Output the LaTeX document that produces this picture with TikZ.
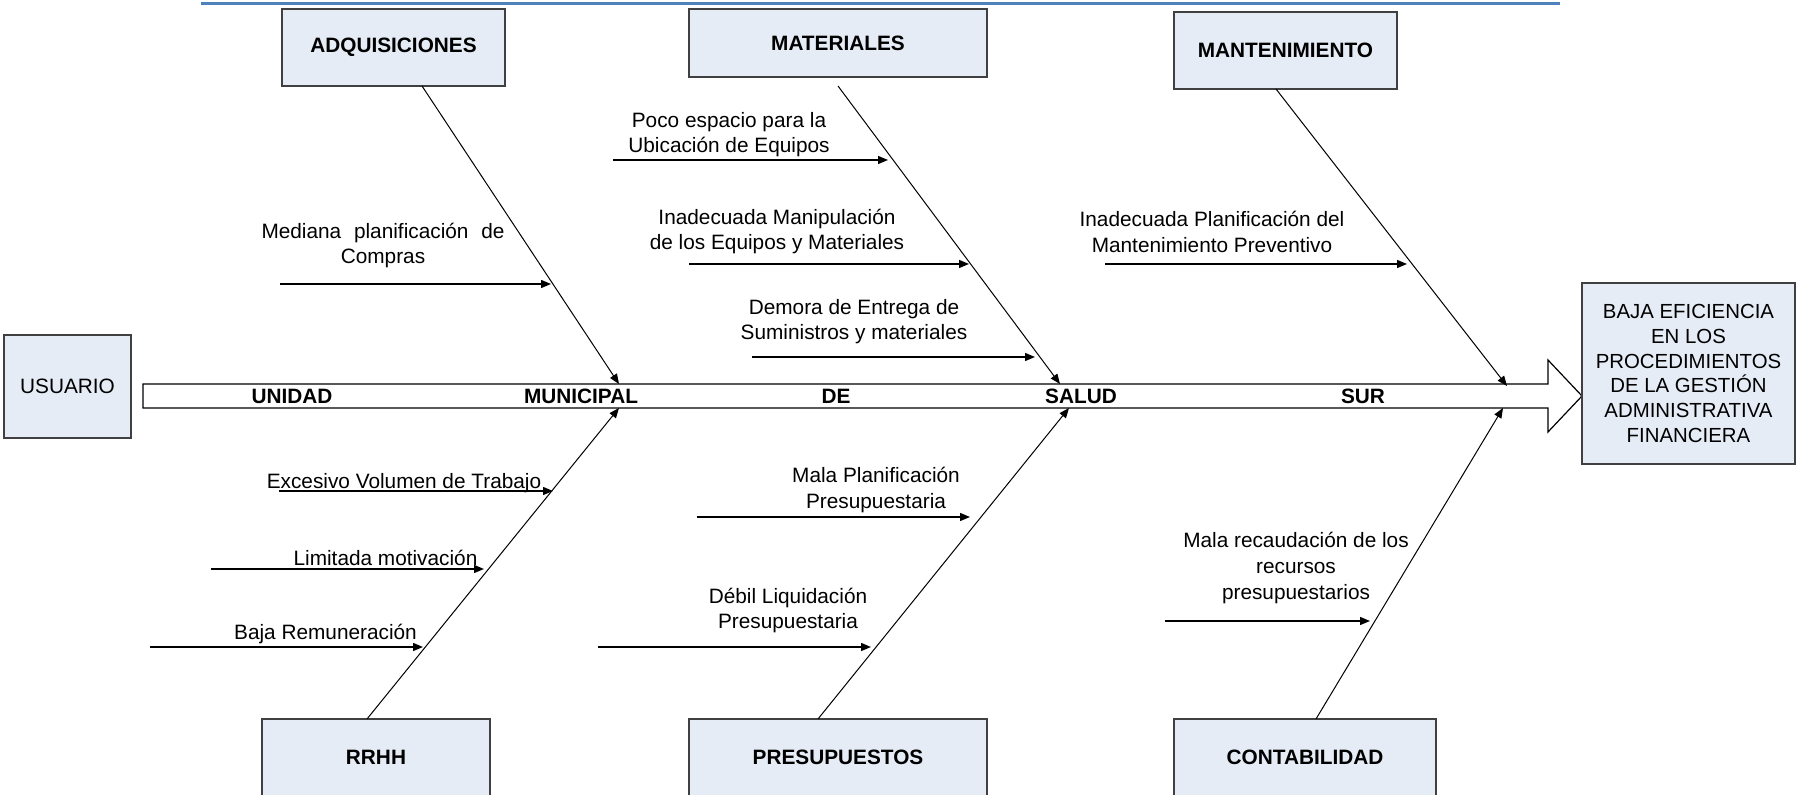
\documentclass[tikz,border=0pt]{standalone}
\usepackage{fontspec}
\setmainfont{Liberation Sans}
\usetikzlibrary{arrows.meta}
\definecolor{boxfill}{RGB}{230,236,246}
\definecolor{boxline}{RGB}{64,64,64}
\definecolor{topblue}{RGB}{79,129,189}
\begin{document}
\begin{tikzpicture}[x=0.5pt,y=-0.5pt,
  catbox/.style={draw=boxline, fill=boxfill, line width=0.6pt, inner sep=0pt,
    font=\fontsize{10.4}{12.8}\selectfont\bfseries, align=center},
  effbox/.style={draw=boxline, fill=boxfill, line width=0.6pt, inner sep=0pt,
    font=\fontsize{10.2}{12.35}\selectfont, align=center},
  lbl/.style={inner sep=0pt, font=\fontsize{10.4}{12.8}\selectfont, align=center},
  spinelbl/.style={inner sep=0pt, font=\fontsize{10.4}{12.8}\selectfont\bfseries},
  branch/.style={line width=0.5pt, -{Triangle[length=5pt,width=4pt]}},
  cause/.style={line width=0.7pt, -{Triangle[length=5pt,width=4pt]}},
]
\useasboundingbox (0,0) rectangle (1796,795);

% top rule
\coordinate (tl) at (201,4);
\coordinate (tr) at (1560,4);
\draw[topblue, line width=1.5pt] (tl) -- (tr);

% spine arrow
\draw[line width=0.6pt, fill=white] (143,384) -- (1548,384) -- (1548,360) -- (1582,396)
  -- (1548,432) -- (1548,408) -- (143,408) -- cycle;

% spine labels
\node[spinelbl] (s1) at (292,396) {UNIDAD};
\node[spinelbl] (s2) at (581,396) {MUNICIPAL};
\node[spinelbl] (s3) at (836,396) {DE};
\node[spinelbl] (s4) at (1081,396) {SALUD};
\node[spinelbl] (s5) at (1363,396) {SUR};

% boxes
\node[catbox, minimum width=111.5pt, minimum height=38.5pt] (adq) at (393.5,47.5) {ADQUISICIONES};
\node[catbox, minimum width=149pt, minimum height=34pt] (mat) at (838,43) {MATERIALES};
\node[catbox, minimum width=111.5pt, minimum height=38.5pt] (mant) at (1285.5,50.5) {MANTENIMIENTO};
\node[catbox, minimum width=114pt, minimum height=38.5pt] (rrhh) at (376,757.5) {RRHH};
\node[catbox, minimum width=149pt, minimum height=38.5pt] (pres) at (838,757.5) {PRESUPUESTOS};
\node[catbox, minimum width=131pt, minimum height=38.5pt] (cont) at (1305,757.5) {CONTABILIDAD};
\node[effbox, font=\fontsize{10.4}{12.8}\selectfont, minimum width=63.5pt, minimum height=51.5pt] (usr) at (67.5,386.5) {USUARIO};
\node[effbox, minimum width=106.5pt, minimum height=90.5pt] (eff) at (1688.5,373.5)
  {BAJA EFICIENCIA\\EN LOS\\PROCEDIMIENTOS\\DE LA GESTIÓN\\ADMINISTRATIVA\\FINANCIERA};

% branch lines
\coordinate (adqA) at (422,86);   \coordinate (adqB) at (619,384);
\coordinate (matA) at (838,86);   \coordinate (matB) at (1060,384);
\coordinate (mantA) at (1276,89); \coordinate (mantB) at (1507,386);
\coordinate (rrhhA) at (367,719); \coordinate (rrhhB) at (619,408);
\coordinate (presA) at (818,719); \coordinate (presB) at (1069,408);
\coordinate (contA) at (1316,719);\coordinate (contB) at (1503,408);
\draw[branch] (adqA) -- (adqB);
\draw[branch] (matA) -- (matB);
\draw[branch] (mantA) -- (mantB);
\draw[branch] (rrhhA) -- (rrhhB);
\draw[branch] (presA) -- (presB);
\draw[branch] (contA) -- (contB);

% cause arrows
\coordinate (c1a) at (280,284);  \coordinate (c1b) at (551,284);
\coordinate (c2a) at (613,160);  \coordinate (c2b) at (888,160);
\coordinate (c3a) at (689,264);  \coordinate (c3b) at (969,264);
\coordinate (c4a) at (752,357);  \coordinate (c4b) at (1035,357);
\coordinate (c5a) at (1105,264); \coordinate (c5b) at (1407,264);
\coordinate (c6a) at (279,491);  \coordinate (c6b) at (553,491);
\coordinate (c7a) at (211,569);  \coordinate (c7b) at (484,569);
\coordinate (c8a) at (150,647);  \coordinate (c8b) at (423,647);
\coordinate (c9a) at (697,517);  \coordinate (c9b) at (970,517);
\coordinate (c10a) at (598,647); \coordinate (c10b) at (871,647);
\coordinate (c11a) at (1165,621);\coordinate (c11b) at (1370,621);
\foreach \i in {1,...,11} {\draw[cause] (c\i a) -- (c\i b);}

% cause labels
\node[lbl] (t1) at (383,245.5) {\makebox[121.5pt][s]{Mediana planificación de}\\Compras};
\node[lbl] (t2) at (729,134.5) {Poco espacio para la\\Ubicación de Equipos};
\node[lbl] (t3) at (777,231.5) {Inadecuada Manipulación\\de los Equipos y Materiales};
\node[lbl] (t4) at (854,321.5) {Demora de Entrega de\\Suministros y materiales};
\node[lbl] (t5) at (1212,232) {Inadecuada Planificación del\\Mantenimiento Preventivo};
\node[lbl] (t6) at (404,483) {Excesivo Volumen de Trabajo};
\node[lbl] (t7) at (385.5,558) {Limitada motivación};
\node[lbl] (t8) at (325.5,634) {Baja Remuneración};
\node[lbl] (t9) at (876,490) {Mala Planificación\\Presupuestaria};
\node[lbl] (t10) at (788,610.5) {Débil Liquidación\\Presupuestaria};
\node[lbl] (t11) at (1296,568) {Mala recaudación de los\\recursos\\presupuestarios};
\end{tikzpicture}
\end{document}
